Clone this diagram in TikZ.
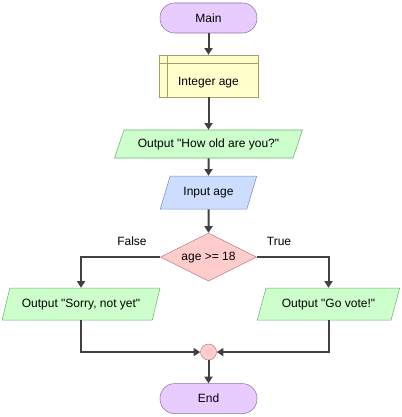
\documentclass[tikz,border=0pt]{standalone}
\usepackage{fontspec}
\setmainfont{Liberation Sans}[Ligatures=TeXOff]
\usetikzlibrary{shapes,arrows,positioning,shapes.geometric,arrows.meta}

\definecolor{termfill}{HTML}{E8CCFF}
\definecolor{termline}{HTML}{9070A8}
\definecolor{declfill}{HTML}{FFFFCC}
\definecolor{declline}{HTML}{A8A060}
\definecolor{outfill}{HTML}{CCFFCC}
\definecolor{outline}{HTML}{70B070}
\definecolor{infill}{HTML}{CCDDFF}
\definecolor{inline}{HTML}{7090C8}
\definecolor{decfill}{HTML}{FFCCCC}
\definecolor{decline}{HTML}{C08080}
\definecolor{flow}{HTML}{404040}

\begin{document}
\begin{tikzpicture}[
    x=0.75pt, y=-0.75pt,
    font=\fontsize{9pt}{11pt}\selectfont,
    auto,
    terminal/.style={rectangle, draw=termline, fill=termfill, minimum width=72.75pt, minimum height=22.5pt, rounded corners=11pt, inner sep=1pt},
    decl/.style={rectangle, draw=declline, fill=declfill, minimum width=74pt, minimum height=31.5pt, inner sep=1pt, text height=15pt, text depth=1pt},
    outbox/.style={trapezium, trapezium stretches=true, trapezium left angle=60, trapezium right angle=120, draw=outline, fill=outfill, inner sep=1pt},
    inbox/.style={trapezium, trapezium stretches=true, trapezium left angle=63, trapezium right angle=117, draw=inline, fill=infill, inner sep=1pt},
    decision/.style={diamond, aspect=2, draw=decline, fill=decfill, minimum width=72pt, minimum height=36pt, inner sep=0pt},
    joint/.style={circle, draw=decline, fill=decfill, minimum size=12pt, inner sep=0pt},
    arrow/.style={draw=flow, line width=1.5pt, -{Triangle[length=5pt,width=6pt]}}
]
\useasboundingbox (0,0) rectangle (401,417);

% Main column, top to bottom
\node [terminal] at (208.5,18) (main) {Main};
\node [decl, below of=main, node distance=43.5pt] (age) {Integer age};
\node [outbox, below of=age, node distance=51pt, minimum width=141pt, minimum height=21pt] (ask) {Output "How old are you?"};
\node [inbox, below of=ask, node distance=36.4pt, minimum width=72.75pt, minimum height=24.75pt] (read) {Input age};
\node [decision, below of=read, node distance=48.4pt] (check) {age >= 18};

% Branches
\node [outbox, below of=check, node distance=35.25pt, xshift=-95.6pt, trapezium left angle=64, trapezium right angle=116, minimum width=119pt, minimum height=24pt] (sorry) {Output "Sorry, not yet"};
\node [outbox, below of=check, node distance=35.25pt, xshift=90pt, trapezium left angle=64, trapezium right angle=116, minimum width=107pt, minimum height=24pt] (vote) {Output "Go vote!"};

\node [joint, below of=check, node distance=71.25pt] (merge) {};
\node [terminal, below of=merge, node distance=34.9pt] (end) {End};

% Inner lines of the declaration box
\draw [declline] ([yshift=-6.75pt]age.north west) -- ([yshift=-6.75pt]age.north east);
\draw [declline] ([xshift=6pt]age.north west) -- ([xshift=6pt]age.south west);

% Draw arrows
\draw [arrow] (main) -- (age);
\draw [arrow] (age) -- (ask);
\draw [arrow] (ask) -- (read);
\draw [arrow] (read) -- (check);
\draw [arrow] (check.west) -| (sorry.north);
\draw [arrow] (check.east) -| (vote.north);
\draw [arrow] (sorry.south) |- (merge.west);
\draw [arrow] (vote.south) |- (merge.east);
\draw [arrow] (merge) -- (end);

% Branch labels
\node at (132,241) (no) {False};
\node at (279,241) (yes) {True};

\end{tikzpicture}
\end{document}
